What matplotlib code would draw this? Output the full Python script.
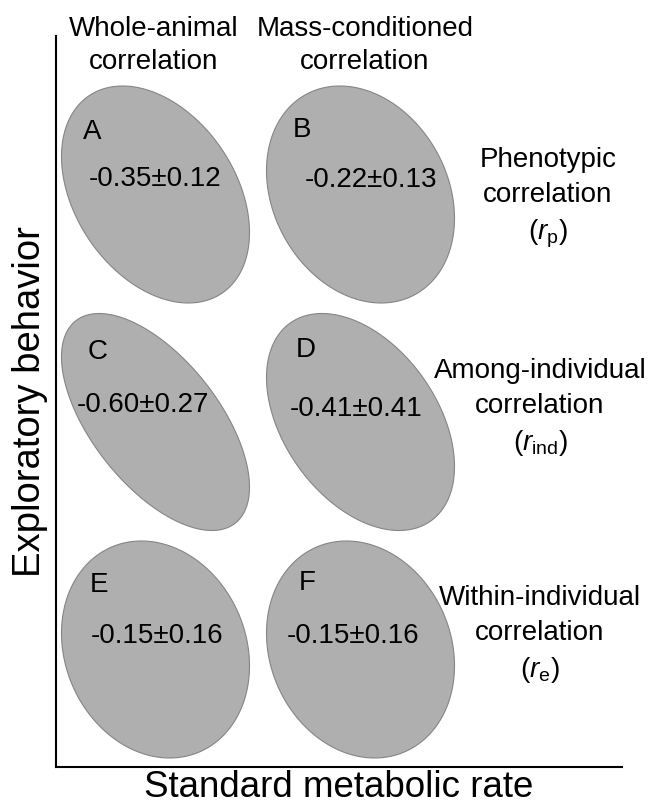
import numpy as np
import matplotlib
matplotlib.use("Agg")
import matplotlib.pyplot as plt
from matplotlib.patches import Polygon

plt.rcParams['font.family'] = ['Liberation Sans', 'DejaVu Sans']
plt.rcParams['mathtext.fontset'] = 'custom'
plt.rcParams['mathtext.rm'] = 'Liberation Sans'
plt.rcParams['mathtext.it'] = 'Liberation Sans:italic'

# correlation estimates (mean +/- SE) for each panel
panels = ['A', 'B', 'C', 'D', 'E', 'F']
r_mean = [-0.35, -0.22, -0.60, -0.41, -0.15, -0.15]
r_se = [0.12, 0.13, 0.27, 0.41, 0.16, 0.16]

col_titles = [['Whole-animal', 'correlation'], ['Mass-conditioned', 'correlation']]
row_titles = [['Phenotypic', 'correlation', 'p'],
              ['Among-individual', 'correlation', 'ind'],
              ['Within-individual', 'correlation', 'e']]

# layout (units = pixels inside the axes frame)
col_x = [99.5, 304.5]
row_y = [572.5, 345.0, 117.5]
half_w, half_h = 94.0, 108.5
value_off = [(0, 15.5), (10, 14.5), (-13, 17), (-4, 13), (2, 13.5), (-7, 13.5)]
letter_off = [(-73, 55.5), (-68, 57.5), (-68, 63), (-65, 65), (-66, 58), (-62, 59.5)]

fig = plt.figure(figsize=(6.5, 8.06), dpi=100)
ax = fig.add_axes([56 / 650, 39 / 806, 566 / 650, 731 / 806])
ax.set_xlim(0, 566)
ax.set_ylim(0, 731)
for s in ['top', 'right']:
    ax.spines[s].set_visible(False)
for s in ['left', 'bottom']:
    ax.spines[s].set_linewidth(1.5)
ax.set_xticks([])
ax.set_yticks([])

t = np.linspace(0, 2 * np.pi, 200)
fs = 20
for i, lab in enumerate(panels):
    cx = col_x[i % 2]
    cy = row_y[i // 2]
    r = r_mean[i]
    # ellipse of a bivariate distribution with correlation r
    x = cx + half_w * np.cos(t)
    y = cy + half_h * (r * np.cos(t) + np.sqrt(1 - r ** 2) * np.sin(t))
    ax.add_patch(Polygon(np.column_stack([x, y]), closed=True,
                         facecolor='#afafaf', edgecolor='#858585', lw=0.8))
    ax.text(cx + letter_off[i][0], cy + letter_off[i][1], lab,
            fontsize=fs, ha='left', va='baseline')
    ax.text(cx + value_off[i][0], cy + value_off[i][1],
            '%.2f\u00b1%.2f' % (r_mean[i], r_se[i]),
            fontsize=fs, ha='center', va='center')

# column headers
for j, lines in enumerate(col_titles):
    hx = [98, 309][j]
    ax.text(hx, 731, lines[0], fontsize=fs, ha='center', va='baseline', clip_on=False)
    ax.text(hx, 698, lines[1], fontsize=fs, ha='center', va='baseline', clip_on=False)

# row labels on the right
for k, (l1, l2, sub) in enumerate(row_titles):
    by = [600, 389, 162][k]
    rx = [492, 484, 484][k]
    ax.text(rx, by, l1, fontsize=fs, ha='center', va='baseline', clip_on=False)
    ax.text(rx, by - 35, l2, fontsize=fs, ha='center', va='baseline', clip_on=False)
    ax.text(rx, by - 72, r'($\mathit{r}_{\mathrm{%s}}$)' % sub,
            fontsize=fs, ha='center', va='baseline', clip_on=False)

ax.set_xlabel('Standard metabolic rate', fontsize=26.5, labelpad=2)
ax.set_ylabel('Exploratory behavior', fontsize=27.5, labelpad=6)

fig.savefig('out.png', dpi=100)
